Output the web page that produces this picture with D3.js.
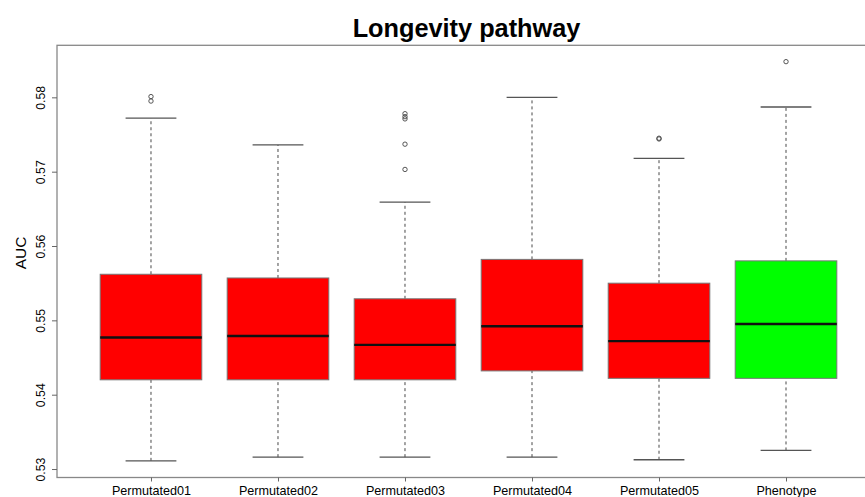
<!DOCTYPE html>
<html>
<head>
<meta charset="utf-8">
<script src="https://cdn.jsdelivr.net/npm/d3@7"></script>
<style>
  html, body { margin: 0; padding: 0; background: #fff; }
  svg { display: block; }
  text { font-family: "Liberation Sans", Arial, sans-serif; }
</style>
</head>
<body>
<svg id="chart" width="865" height="497"></svg>
<script>
// Box-plot summaries of AUC per group
const categories = ["Permutated01", "Permutated02", "Permutated03", "Permutated04", "Permutated05", "Phenotype"];
const whiskerLow  = [0.5311, 0.5316, 0.5316, 0.5316, 0.53125, 0.5325];
const boxLow      = [0.5420, 0.5420, 0.5420, 0.5432, 0.5422, 0.5422];
const medians     = [0.5477, 0.5479, 0.5467, 0.5492, 0.5472, 0.5495];
const boxHigh     = [0.5562, 0.5557, 0.5529, 0.5582, 0.5550, 0.5580];
const whiskerHigh = [0.5772, 0.5736, 0.5659, 0.5800, 0.5718, 0.5787];
const outliers    = [[0.5801, 0.5795], [], [0.5778, 0.5774, 0.5771, 0.5737, 0.5703], [], [0.5745, 0.5744], [0.5848]];
const fillColors  = ["#ff0000", "#ff0000", "#ff0000", "#ff0000", "#ff0000", "#00ff00"];
const yTicks      = [0.53, 0.54, 0.55, 0.56, 0.57, 0.58];
const title       = "Longevity pathway";
const yLabel      = "AUC";

const svg = d3.select("#chart");

const plot = { left: 57, right: 880, top: 45.3, bottom: 477.5 };

const x = d3.scaleLinear().domain([0.26, 6.74]).range([plot.left, plot.right]);
const y = d3.scaleLinear().domain([0.52886, 0.5870]).range([plot.bottom, plot.top]);

const boxHalf = x(1.4) - x(1);      // half box width (0.4 units)
const capHalf = boxHalf / 2;

const data = categories.map((c, i) => ({
  name: c, pos: i + 1,
  lo: whiskerLow[i], q1: boxLow[i], med: medians[i], q3: boxHigh[i], hi: whiskerHigh[i],
  out: outliers[i], fill: fillColors[i]
}));

const g = svg.append("g");

// whiskers (dashed)
g.selectAll("line.wlow").data(data).join("line")
  .attr("x1", d => x(d.pos)).attr("x2", d => x(d.pos))
  .attr("y1", d => y(d.lo)).attr("y2", d => y(d.q1))
  .attr("stroke", "#333").attr("stroke-width", 0.9).attr("stroke-dasharray", "3,3");
g.selectAll("line.whigh").data(data).join("line")
  .attr("x1", d => x(d.pos)).attr("x2", d => x(d.pos))
  .attr("y1", d => y(d.q3)).attr("y2", d => y(d.hi))
  .attr("stroke", "#333").attr("stroke-width", 0.9).attr("stroke-dasharray", "3,3");

// whisker caps
["lo", "hi"].forEach(k => {
  g.selectAll("line.cap-" + k).data(data).join("line")
    .attr("x1", d => x(d.pos) - capHalf).attr("x2", d => x(d.pos) + capHalf)
    .attr("y1", d => y(d[k])).attr("y2", d => y(d[k]))
    .attr("stroke", "#555").attr("stroke-width", 1.3);
});

// boxes
g.selectAll("rect.box").data(data).join("rect")
  .attr("x", d => x(d.pos) - boxHalf)
  .attr("width", 2 * boxHalf)
  .attr("y", d => y(d.q3))
  .attr("height", d => y(d.q1) - y(d.q3))
  .attr("fill", d => d.fill)
  .attr("stroke", "#777").attr("stroke-width", 1);

// medians
g.selectAll("line.med").data(data).join("line")
  .attr("x1", d => x(d.pos) - boxHalf).attr("x2", d => x(d.pos) + boxHalf)
  .attr("y1", d => y(d.med)).attr("y2", d => y(d.med))
  .attr("stroke", "#111").attr("stroke-width", 2.4);

// outliers
data.forEach(d => {
  g.selectAll(null).data(d.out).join("circle")
    .attr("cx", x(d.pos)).attr("cy", v => y(v)).attr("r", 2.2)
    .attr("fill", "none").attr("stroke", "#444").attr("stroke-width", 0.9);
});

// plot frame
svg.append("rect")
  .attr("x", plot.left).attr("y", plot.top)
  .attr("width", plot.right - plot.left).attr("height", plot.bottom - plot.top)
  .attr("fill", "none").attr("stroke", "#888").attr("stroke-width", 1.3);

// y axis
const yAxis = svg.append("g")
  .attr("transform", `translate(${plot.left},0)`)
  .call(d3.axisLeft(y).tickValues(yTicks).tickSize(5).tickSizeOuter(0).tickFormat(d3.format(".2f")));
yAxis.select(".domain").remove();
yAxis.selectAll(".tick line").attr("stroke", "#666");
yAxis.selectAll(".tick text")
  .attr("font-size", "12.3px").attr("fill", "#000")
  .attr("transform", "rotate(-90)")
  .attr("x", 0).attr("y", -12).attr("dy", 0)
  .attr("text-anchor", "middle");

// x axis
const xAxis = svg.append("g")
  .attr("transform", `translate(0,${plot.bottom})`)
  .call(d3.axisBottom(x).tickValues(data.map(d => d.pos)).tickSize(4).tickSizeOuter(0)
    .tickFormat((v, i) => categories[i]));
xAxis.select(".domain").remove();
xAxis.selectAll(".tick line").attr("stroke", "#666");
xAxis.selectAll(".tick text")
  .attr("font-size", "12.6px").attr("fill", "#000")
  .attr("y", 17.2).attr("dy", 0);

// title
svg.append("text")
  .attr("x", (plot.left + plot.right) / 2 - 2).attr("y", 36.5)
  .attr("text-anchor", "middle")
  .attr("font-size", "25.3px").attr("font-weight", "bold")
  .text(title);

// y label
svg.append("text")
  .attr("transform", "translate(26,253) rotate(-90)")
  .attr("text-anchor", "middle")
  .attr("font-size", "15.5px")
  .text(yLabel);
</script>
</body>
</html>
